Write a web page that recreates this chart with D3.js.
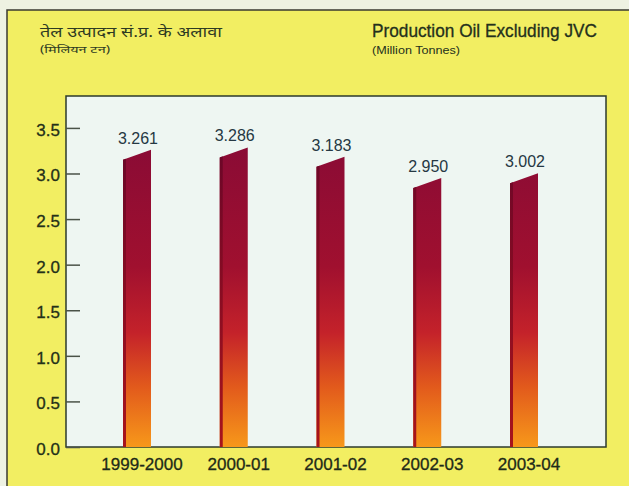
<!DOCTYPE html>
<html>
<head>
<meta charset="utf-8">
<script src="https://cdn.jsdelivr.net/npm/d3@7"></script>
<style>
  body { margin: 0; background: #eef2e2; }
  svg { display: block; }
</style>
</head>
<body>
<svg id="chart" width="629" height="486"></svg>
<script>
var years = ["1999-2000", "2000-01", "2001-02", "2002-03", "2003-04"];
var values = [3.261, 3.286, 3.183, 2.950, 3.002];
var valueLabels = ["3.261", "3.286", "3.183", "2.950", "3.002"];
var yTicks = [0, 0.5, 1.0, 1.5, 2.0, 2.5, 3.0, 3.5];

var svg = d3.select("#chart");

// plot box
var plotLeft = 66, plotRight = 606, plotTop = 96, plotBottom = 447;
var barWidth = 28;
var slant = 10;

var x = d3.scalePoint().domain(years).range([137, 524]);
var y = d3.scaleLinear().domain([0, 3.85]).range([plotBottom, plotTop]);

var defs = svg.append("defs");
var grad = defs.append("linearGradient")
    .attr("id", "barGrad")
    .attr("gradientUnits", "userSpaceOnUse")
    .attr("x1", 0).attr("y1", y(3.3))
    .attr("x2", 0).attr("y2", plotBottom);
grad.append("stop").attr("offset", 0).attr("stop-color", "#8a0b35");
grad.append("stop").attr("offset", 0.4).attr("stop-color", "#a0102f");
grad.append("stop").attr("offset", 0.62).attr("stop-color", "#c4222a");
grad.append("stop").attr("offset", 0.8).attr("stop-color", "#e25a1c");
grad.append("stop").attr("offset", 1).attr("stop-color", "#f7981a");

var edgeGrad = defs.append("linearGradient")
    .attr("id", "edgeGrad")
    .attr("gradientUnits", "userSpaceOnUse")
    .attr("x1", 0).attr("y1", y(3.3))
    .attr("x2", 0).attr("y2", plotBottom);
edgeGrad.append("stop").attr("offset", 0).attr("stop-color", "#6a0628");
edgeGrad.append("stop").attr("offset", 1).attr("stop-color", "#a8141c");

// yellow panel
svg.append("rect")
    .attr("x", 7).attr("y", 10)
    .attr("width", 640).attr("height", 490)
    .attr("fill", "#f2ee62")
    .attr("stroke", "#3a3a30")
    .attr("stroke-width", 1.5);

// titles
svg.append("text")
    .attr("x", 40).attr("y", 37)
    .attr("font-family", "'Noto Sans', 'DejaVu Sans', sans-serif")
    .attr("font-size", 14)
    .attr("fill", "#2e3a22")
    .attr("textLength", 182)
    .attr("lengthAdjust", "spacingAndGlyphs")
    .text("तेल उत्पादन सं.प्र. के अलावा");

svg.append("text")
    .attr("x", 40).attr("y", 53)
    .attr("font-family", "'Noto Sans', 'DejaVu Sans', sans-serif")
    .attr("font-size", 10)
    .attr("fill", "#2e3a22")
    .attr("textLength", 70)
    .attr("lengthAdjust", "spacingAndGlyphs")
    .text("(मिलियन टन)");

svg.append("text")
    .attr("x", 372).attr("y", 37)
    .attr("font-family", "'Liberation Sans Narrow', 'Arial Narrow', 'Liberation Sans', Arial, sans-serif")
    .attr("font-size", 18)
    .attr("fill", "#24301c")
    .attr("stroke", "#24301c")
    .attr("stroke-width", 0.3)
    .attr("textLength", 225)
    .attr("lengthAdjust", "spacingAndGlyphs")
    .text("Production Oil Excluding JVC");

svg.append("text")
    .attr("x", 372).attr("y", 54)
    .attr("font-family", "'Liberation Sans Narrow', 'Arial Narrow', 'Liberation Sans', Arial, sans-serif")
    .attr("font-size", 11)
    .attr("fill", "#24301c")
    .attr("textLength", 88)
    .attr("lengthAdjust", "spacingAndGlyphs")
    .text("(Million Tonnes)");

// plot area
svg.append("rect")
    .attr("x", plotLeft).attr("y", plotTop)
    .attr("width", plotRight - plotLeft).attr("height", plotBottom - plotTop)
    .attr("fill", "#eef6f2")
    .attr("stroke", "#2c3a2c")
    .attr("stroke-width", 1.5);

// y ticks (inside the box)
var yAxis = d3.axisRight(y).tickValues(yTicks).tickSize(14).tickFormat("");
var ya = svg.append("g")
    .attr("transform", "translate(" + plotLeft + ",0)")
    .call(yAxis);
ya.select(".domain").remove();
ya.selectAll("line").attr("stroke", "#4a5248").attr("stroke-width", 1.5);

svg.selectAll(".ylab")
    .data(yTicks)
    .enter().append("text")
    .attr("class", "ylab")
    .attr("x", 60)
    .attr("y", function(d) { return y(d) + 2; })
    .attr("dy", "0.35em")
    .attr("text-anchor", "end")
    .attr("font-family", "'Liberation Sans', Arial, sans-serif")
    .attr("font-size", 17)
    .attr("fill", "#243018")
    .attr("stroke", "#243018")
    .attr("stroke-width", 0.3)
    .text(function(d) { return d.toFixed(1); });

// bars
function barPath(d, i, x0, w) {
    var yt = y(values[i]);
    return "M" + x0 + "," + (yt + slant) +
           "L" + (x0 + w) + "," + (yt + slant * (1 - w / barWidth)) +
           "L" + (x0 + w) + "," + plotBottom +
           "L" + x0 + "," + plotBottom + "Z";
}

svg.selectAll(".bar")
    .data(years)
    .enter().append("path")
    .attr("class", "bar")
    .attr("fill", "url(#barGrad)")
    .attr("d", function(d, i) { return barPath(d, i, x(d) - barWidth / 2, barWidth); });

svg.selectAll(".edge")
    .data(years)
    .enter().append("path")
    .attr("class", "edge")
    .attr("fill", "url(#edgeGrad)")
    .attr("d", function(d, i) { return barPath(d, i, x(d) - barWidth / 2, 3); });

// value labels
svg.selectAll(".val")
    .data(years)
    .enter().append("text")
    .attr("class", "val")
    .attr("x", function(d) { return x(d) + 1; })
    .attr("y", function(d, i) { return y(values[i]) - 6; })
    .attr("text-anchor", "middle")
    .attr("font-family", "'Liberation Sans', Arial, sans-serif")
    .attr("font-size", 16)
    .attr("fill", "#253843")
    .text(function(d, i) { return valueLabels[i]; });

// x labels
svg.selectAll(".xlab")
    .data(years)
    .enter().append("text")
    .attr("class", "xlab")
    .attr("x", function(d) { return x(d) + 5; })
    .attr("y", 470)
    .attr("text-anchor", "middle")
    .attr("font-family", "'Liberation Sans Narrow', 'Arial Narrow', 'Liberation Sans', Arial, sans-serif")
    .attr("font-size", 17)
    .attr("fill", "#1e2a18")
    .attr("stroke", "#1e2a18")
    .attr("stroke-width", 0.3)
    .text(function(d) { return d; });
</script>
</body>
</html>
